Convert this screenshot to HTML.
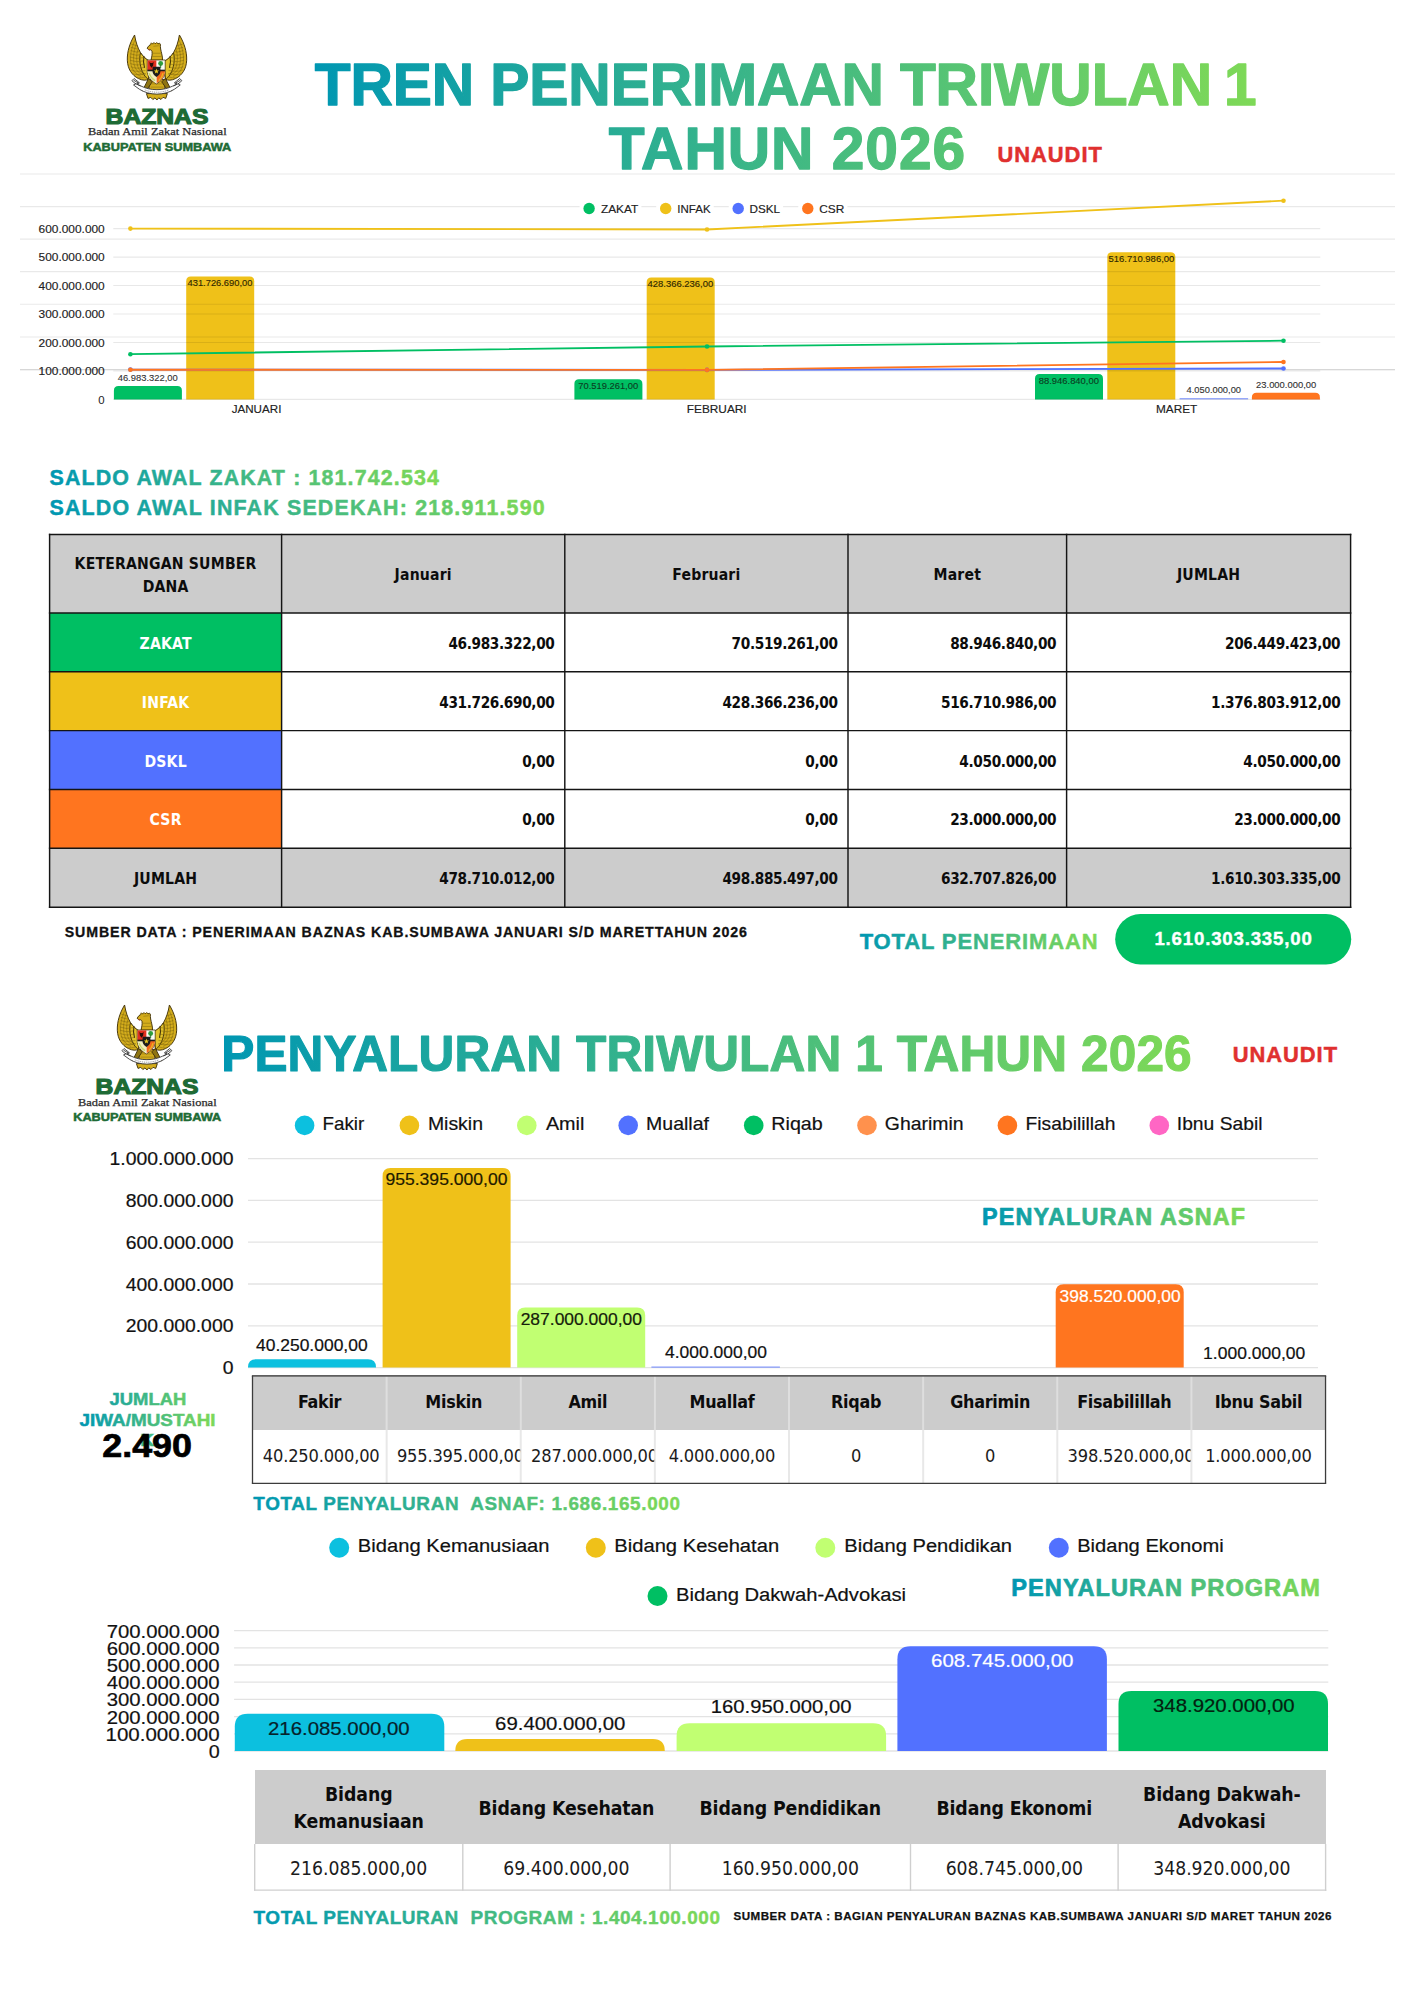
<!DOCTYPE html>
<html lang="id"><head><meta charset="utf-8"><title>Tren Penerimaan Triwulan 1 Tahun 2026</title>
<style>
html,body{margin:0;padding:0;background:#fff}
body{width:1414px;height:2000px;position:relative;overflow:hidden;font-family:"Liberation Sans",sans-serif;color:#111}
.t{position:absolute;white-space:nowrap;line-height:1}
svg{position:absolute;left:0;top:0;overflow:visible}
svg text{font-family:"Liberation Sans",sans-serif}
table{position:absolute;border-collapse:collapse;table-layout:fixed}
.os{font-family:"DejaVu Sans Condensed","DejaVu Sans","Liberation Sans",sans-serif}
</style></head><body>

<svg style="position:absolute;left:119.1px;top:28px" width="76" height="76" viewBox="0 0 141.4 141.4">
<g stroke="#43340a" stroke-width="1.8" stroke-linejoin="round">
<path d="M29 13 C20 28 15 44 15.500 60 C16 76 24 88 36 94 C44 98 51 98 55 95 L57 62 C50 59 44 53 40 46 C35 37 31 26 29 13Z" fill="#d4ad1c"/>
<path d="M112.400 13 C121.400 28 126.400 44 125.900 60 C125.400 76 117.400 88 105.400 94 C97.400 98 90.400 98 86.400 95 L84.400 62 C91.400 59 97.400 53 101.400 46 C106.400 37 110.400 26 112.400 13Z" fill="#d4ad1c"/>
<path d="M40 46 C37 58 39 74 46 86 C49 91 52 94 55 95 L58 62 C51 59 45 53 40 46Z" fill="#e2c22a"/>
<path d="M101.400 46 C104.400 58 102.400 74 95.400 86 C92.400 91 89.400 94 86.400 95 L83.400 62 C90.400 59 96.400 53 101.400 46Z" fill="#e2c22a"/>
<path d="M52.500 37.500 C55 32 60 29.500 66 29 C70 28.600 74 29 77 30.500 C76.500 36 78 42 79.500 48 C80.500 52 81 56 81 60 L59.500 60 C61 54 62 49 61.500 44 C61 42 60 40.500 58 40.500 C56 41 53.500 40 52.500 37.500Z" fill="#d4ad1c"/>
<path d="M57 96 L84.400 96 L86 122 L55 122Z" fill="#d4ad1c"/>
<path d="M51 122 L90 122 L87 131 L82 129 L78 133 L74 130 L70.500 134 L67 130 L63 133 L59 129 L54 131Z" fill="#d4ad1c"/>
<path d="M55 94 L46 112 L41 113 L44 117 L51 116 L62 100Z" fill="#8f7512"/>
<path d="M86.400 94 L95.400 112 L100.400 113 L97.400 117 L90.400 116 L79.400 100Z" fill="#8f7512"/>
</g>
<clipPath id="gc1"><path d="M29 13 C20 28 15 44 15.5 60 C16 76 24 88 36 94 C44 98 51 98 55 95 L57 62 C50 59 44 53 40 46 C35 37 31 26 29 13Z"/></clipPath>
<g fill="none" stroke="#8f7512" stroke-width="1.3" opacity=".85"><g clip-path="url(#gc1)"><path d="M23.0 30 Q32 35 42.0 31" /><path d="M22.3 36 Q32 41 42.9 37" /><path d="M21.6 42 Q32 47 43.8 43" /><path d="M20.8 48 Q32 53 44.7 49" /><path d="M20.1 54 Q32 59 45.6 55" /><path d="M20.6 60 Q32 65 46.5 61" /><path d="M21.3 66 Q32 71 47.4 67" /><path d="M22.0 72 Q32 77 48.3 73" /><path d="M22.8 78 Q32 83 49.2 79" /><path d="M23.5 84 Q32 89 50.1 85" /><path d="M24.2 90 Q32 95 51.0 91" /></g><g transform="translate(141.4 0) scale(-1 1)"><g clip-path="url(#gc1)"><path d="M23.0 30 Q32 35 42.0 31" /><path d="M22.3 36 Q32 41 42.9 37" /><path d="M21.6 42 Q32 47 43.8 43" /><path d="M20.8 48 Q32 53 44.7 49" /><path d="M20.1 54 Q32 59 45.6 55" /><path d="M20.6 60 Q32 65 46.5 61" /><path d="M21.3 66 Q32 71 47.4 67" /><path d="M22.0 72 Q32 77 48.3 73" /><path d="M22.8 78 Q32 83 49.2 79" /><path d="M23.5 84 Q32 89 50.1 85" /><path d="M24.2 90 Q32 95 51.0 91" /></g></g>
<path d="M60 104 H82 M59 110 H83 M58 116 H84 M64 34 L74 33 M63 47 H78 M62 53 H79"/></g>
<g fill="none" stroke="#43340a" stroke-width="1" opacity=".55"><path d="M30 22 C23 36 20 52 22 66 C24 78 31 86 41 90 M32 30 C27 42 26 56 28 68 C30 77 36 84 45 87 M35 40 C32 50 32 62 35 72 C37 78 42 83 49 86"/><g transform="translate(141.4 0) scale(-1 1)"><path d="M30 22 C23 36 20 52 22 66 C24 78 31 86 41 90 M32 30 C27 42 26 56 28 68 C30 77 36 84 45 87 M35 40 C32 50 32 62 35 72 C37 78 42 83 49 86"/></g></g>
<path d="M58 31 L60 27.5 L62.500 30 L65 26.800 L67.500 29.500 L70.500 26.800 L72.500 29.800 L75.500 28 L77 31" fill="#d4ad1c" stroke="#43340a" stroke-width="1.2" stroke-linejoin="round"/>
<path d="M46.500 52 C45 60 45.500 68 47.500 74" stroke="#43340a" stroke-width="2" fill="none"/>
<path d="M94.900 52 C96.400 60 95.900 68 93.900 74" stroke="#43340a" stroke-width="2" fill="none"/>
<path d="M54 38 L58 40.500 L57.500 43 Z" fill="#c0392b"/>
<g stroke="#333" stroke-width="1.6" fill="#fff" stroke-linejoin="round">
<path d="M24 98 L28 94 L38 102 L33 104 L41 108 C58 117 83 117 100 108 L108 104 L103 102 L113 94 L117 98 L110 104 L114 106 L103 114 C84 126 57 126 38 114 L27 106 L31 104Z"/>
</g>
<path d="M27 97 L37 103 M30 103 L40 108 M114.4 97 L104.4 103 M111.4 103 L101.4 108" stroke="#333" stroke-width="1.6"/>
<path d="M48 115 C62 121 79 121 93 115" stroke="#888" stroke-width="1.600" fill="none" stroke-dasharray="2 1.500"/>
<g>
<path d="M52.500 59.500 L86 59.500 L86 82 C85 92 78 99 69.500 104 C61 99 54 92 52.500 82Z" fill="#fbfbf4" stroke="#43340a" stroke-width="1.400"/>
<path d="M53.200 60.200 L69.500 60.200 L69.500 79 L53.200 79Z" fill="#e2301f"/>
<path d="M69.500 80 L85.300 80 L85.300 82 C84.300 91.500 78 98 69.800 103Z" fill="#f2691c"/>
<path d="M53.200 80 L69.500 80 L69.500 103 C61.500 98 54.700 91.500 53.200 82Z" fill="#f1eec0"/>
<path d="M56 84 C58 90 62 95 67 98" stroke="#c9d86a" stroke-width="2.400" fill="none"/>
<path d="M74 98 C78 94 81 89 82 84" stroke="#e8b820" stroke-width="2.400" fill="none"/>
<path d="M53 77.500 L85.500 77.500 L85.500 80.500 L53 80.500Z" fill="#1c1c1c"/>
<path d="M62.500 72 L77 72 L77 82 C76 86.500 73 89 69.700 91 C66.500 89 63.500 86.500 62.500 82Z" fill="#1c1c1c"/>
<path d="M69.700 75.500 L71 79 L74.600 79 L71.700 81.200 L72.800 84.800 L69.700 82.600 L66.600 84.800 L67.700 81.200 L64.800 79 L68.400 79Z" fill="#e9c81f"/>
<circle cx="77.500" cy="66" r="4.600" fill="#2f9e3c"/><rect x="76.600" y="68" width="1.800" height="6.500" fill="#2f7d32"/>
<path d="M56.500 63 C58 66 63 66 64.500 63 L63.500 70 L60.500 74 L57.500 70Z" fill="#2a0d0a"/>
</g>
</svg>
<svg width="1414" height="2000" viewBox="0 0 1414 2000">
<text x="105.6" y="123.7" font-size="22" font-weight="bold" textLength="102.8" lengthAdjust="spacingAndGlyphs" fill="#1e6b35" stroke="#1e6b35" stroke-width="1.2">BAZNAS</text>
<text x="88" y="135.2" font-size="10.800" font-family="'Liberation Serif',serif" style="font-family:'Liberation Serif',serif" textLength="138.600" lengthAdjust="spacingAndGlyphs" fill="#2b2b2b" stroke="#2b2b2b" stroke-width=".25">Badan Amil Zakat Nasional</text>
<text x="83.2" y="150.5" font-size="10.700" font-weight="bold" textLength="148" lengthAdjust="spacingAndGlyphs" fill="#1e6b35" stroke="#1e6b35" stroke-width=".5">KABUPATEN SUMBAWA</text>
</svg>
<svg width="1414" height="2000" viewBox="0 0 1414 2000">
<linearGradient id="gr1" gradientUnits="userSpaceOnUse" x1="315.4" x2="1208.5" y1="0" y2="0"><stop offset="0" stop-color="#0097b2"/><stop offset="1" stop-color="#79d65b"/></linearGradient><text x="314.81" y="105" font-size="58.7" font-weight="bold" textLength="897.21" lengthAdjust="spacing" fill="url(#gr1)" stroke="url(#gr1)" stroke-width="1.3" stroke-linejoin="round" xml:space="preserve">TREN PENERIMAAN TRIWULAN</text>
<linearGradient id="gr2" gradientUnits="userSpaceOnUse" x1="1228" x2="1257" y1="0" y2="0"><stop offset="0" stop-color="#7bd759"/><stop offset="1" stop-color="#7ed957"/></linearGradient><text x="1223.89" y="105" font-size="58.7" font-weight="bold" textLength="34.87" lengthAdjust="spacing" fill="url(#gr2)" stroke="url(#gr2)" stroke-width="1.3" stroke-linejoin="round" xml:space="preserve">1</text>
<linearGradient id="gr3" gradientUnits="userSpaceOnUse" x1="609.8" x2="962.8" y1="0" y2="0"><stop offset="0" stop-color="#28ac95"/><stop offset="1" stop-color="#57c573"/></linearGradient><text x="608.63" y="169" font-size="58.7" font-weight="bold" textLength="356.52" lengthAdjust="spacing" fill="url(#gr3)" stroke="url(#gr3)" stroke-width="1.3" stroke-linejoin="round" xml:space="preserve">TAHUN 2026</text>
<text x="997.47" y="161.6" font-size="21.9" font-weight="bold" textLength="104.37" lengthAdjust="spacing" fill="#e0302f" stroke="#e0302f" stroke-width="0.5" xml:space="preserve">UNAUDIT</text>
<text x="104.6" y="403.50" text-anchor="end" font-size="11.4" fill="#222">0</text>
<text x="38.64" y="375.04" font-size="11.4" font-weight="normal" textLength="66.11" lengthAdjust="spacingAndGlyphs" fill="#222" stroke="#222" stroke-width="0.15" xml:space="preserve">100.000.000</text>
<text x="38.64" y="346.58" font-size="11.4" font-weight="normal" textLength="66.11" lengthAdjust="spacingAndGlyphs" fill="#222" stroke="#222" stroke-width="0.15" xml:space="preserve">200.000.000</text>
<text x="38.64" y="318.12" font-size="11.4" font-weight="normal" textLength="66.11" lengthAdjust="spacingAndGlyphs" fill="#222" stroke="#222" stroke-width="0.15" xml:space="preserve">300.000.000</text>
<text x="38.64" y="289.66" font-size="11.4" font-weight="normal" textLength="66.11" lengthAdjust="spacingAndGlyphs" fill="#222" stroke="#222" stroke-width="0.15" xml:space="preserve">400.000.000</text>
<text x="38.64" y="261.2" font-size="11.4" font-weight="normal" textLength="66.11" lengthAdjust="spacingAndGlyphs" fill="#222" stroke="#222" stroke-width="0.15" xml:space="preserve">500.000.000</text>
<text x="38.64" y="232.74" font-size="11.4" font-weight="normal" textLength="66.11" lengthAdjust="spacingAndGlyphs" fill="#222" stroke="#222" stroke-width="0.15" xml:space="preserve">600.000.000</text>
<path d="M113.9 399.4V390.63Q113.9 386.03 118.5 386.03H177.3Q181.9 386.03 181.9 390.63V399.4Z" fill="#00bf63"/>
<path d="M186.2 399.4V281.13Q186.2 276.53 190.79999999999998 276.53H249.6Q254.2 276.53 254.2 281.13V399.4Z" fill="#efc119"/>
<path d="M574.4 399.4V383.93Q574.4 379.33 579.0 379.33H637.8Q642.4 379.33 642.4 383.93V399.4Z" fill="#00bf63"/>
<path d="M646.7 399.4V282.09Q646.7 277.49 651.3000000000001 277.49H710.1Q714.7 277.49 714.7 282.09V399.4Z" fill="#efc119"/>
<path d="M1035.0 399.4V378.69Q1035.0 374.09 1039.6 374.09H1098.4Q1103.0 374.09 1103.0 378.69V399.4Z" fill="#00bf63"/>
<path d="M1107.3 399.4V256.94Q1107.3 252.34 1111.8999999999999 252.34H1170.7Q1175.3 252.34 1175.3 256.94V399.4Z" fill="#efc119"/>
<rect x="1179.6" y="398.09999999999997" width="68.5" height="1.3" fill="#5271ff" opacity=".65"/>
<path d="M1251.9 399.4V397.45Q1251.9 392.85 1256.5 392.85H1315.3000000000002Q1319.9 392.85 1319.9 397.45V399.4Z" fill="#ff751f"/>
<line x1="20" x2="1395" y1="174.0" y2="174.0" stroke="#000" stroke-opacity=".085" stroke-width="1.1"/>
<line x1="20" x2="1395" y1="206.6" y2="206.6" stroke="#000" stroke-opacity=".085" stroke-width="1.1"/>
<line x1="20" x2="1395" y1="239.1" y2="239.1" stroke="#000" stroke-opacity=".085" stroke-width="1.1"/>
<line x1="20" x2="1395" y1="271.6" y2="271.6" stroke="#000" stroke-opacity=".085" stroke-width="1.1"/>
<line x1="20" x2="1395" y1="304.3" y2="304.3" stroke="#000" stroke-opacity=".085" stroke-width="1.1"/>
<line x1="20" x2="1395" y1="337.0" y2="337.0" stroke="#000" stroke-opacity=".085" stroke-width="1.1"/>
<line x1="20" x2="1395" y1="369.7" y2="369.7" stroke="#000" stroke-opacity=".21" stroke-width="1.1"/>
<line x1="113.3" x2="1320.3" y1="399.40" y2="399.40" stroke="#000" stroke-opacity=".09" stroke-width="1.1"/>
<line x1="113.3" x2="1320.3" y1="370.94" y2="370.94" stroke="#000" stroke-opacity=".09" stroke-width="1.1"/>
<line x1="113.3" x2="1320.3" y1="342.48" y2="342.48" stroke="#000" stroke-opacity=".09" stroke-width="1.1"/>
<line x1="113.3" x2="1320.3" y1="314.02" y2="314.02" stroke="#000" stroke-opacity=".09" stroke-width="1.1"/>
<line x1="113.3" x2="1320.3" y1="285.56" y2="285.56" stroke="#000" stroke-opacity=".09" stroke-width="1.1"/>
<line x1="113.3" x2="1320.3" y1="257.10" y2="257.10" stroke="#000" stroke-opacity=".09" stroke-width="1.1"/>
<line x1="113.3" x2="1320.3" y1="228.64" y2="228.64" stroke="#000" stroke-opacity=".09" stroke-width="1.1"/>
<polyline points="130.4,228.6 707,229.5 1283.5,200.7" fill="none" stroke="#efc119" stroke-width="1.85"/>
<circle cx="130.4" cy="228.6" r="2.3" fill="#efc119"/>
<circle cx="707" cy="229.5" r="2.3" fill="#efc119"/>
<circle cx="1283.5" cy="200.7" r="2.3" fill="#efc119"/>
<polyline points="130.4,354.2 707,346.5 1283.5,340.7" fill="none" stroke="#00bf63" stroke-width="1.85"/>
<circle cx="130.4" cy="354.2" r="2.3" fill="#00bf63"/>
<circle cx="707" cy="346.5" r="2.3" fill="#00bf63"/>
<circle cx="1283.5" cy="340.7" r="2.3" fill="#00bf63"/>
<polyline points="130.4,369.6 707,369.9 1283.5,368.5" fill="none" stroke="#5271ff" stroke-width="1.85"/>
<circle cx="130.4" cy="369.6" r="2.3" fill="#5271ff"/>
<circle cx="707" cy="369.9" r="2.3" fill="#5271ff"/>
<circle cx="1283.5" cy="368.5" r="2.3" fill="#5271ff"/>
<polyline points="130.4,369.7 707,369.9 1283.5,362" fill="none" stroke="#ff751f" stroke-width="1.85"/>
<circle cx="130.4" cy="369.7" r="2.3" fill="#ff751f"/>
<circle cx="707" cy="369.9" r="2.3" fill="#ff751f"/>
<circle cx="1283.5" cy="362" r="2.3" fill="#ff751f"/>
<text x="117.66" y="381.2" font-size="8.8" font-weight="normal" textLength="60.08" lengthAdjust="spacingAndGlyphs" fill="#333" stroke="#333" stroke-width="0.11" xml:space="preserve">46.983.322,00</text>
<text x="187.56" y="286" font-size="8.8" font-weight="normal" textLength="64.88" lengthAdjust="spacingAndGlyphs" fill="#2e2600" stroke="#2e2600" stroke-width="0.11" xml:space="preserve">431.726.690,00</text>
<text x="578.26" y="389" font-size="8.8" font-weight="normal" textLength="59.88" lengthAdjust="spacingAndGlyphs" fill="#0b3d22" stroke="#0b3d22" stroke-width="0.11" xml:space="preserve">70.519.261,00</text>
<text x="647.56" y="286.8" font-size="8.8" font-weight="normal" textLength="65.68" lengthAdjust="spacingAndGlyphs" fill="#2e2600" stroke="#2e2600" stroke-width="0.11" xml:space="preserve">428.366.236,00</text>
<text x="1038.76" y="383.5" font-size="8.8" font-weight="normal" textLength="60.18" lengthAdjust="spacingAndGlyphs" fill="#0b3d22" stroke="#0b3d22" stroke-width="0.11" xml:space="preserve">88.946.840,00</text>
<text x="1108.46" y="261.5" font-size="8.8" font-weight="normal" textLength="65.88" lengthAdjust="spacingAndGlyphs" fill="#2e2600" stroke="#2e2600" stroke-width="0.11" xml:space="preserve">516.710.986,00</text>
<text x="1186.56" y="393.2" font-size="8.8" font-weight="normal" textLength="54.48" lengthAdjust="spacingAndGlyphs" fill="#333" stroke="#333" stroke-width="0.11" xml:space="preserve">4.050.000,00</text>
<text x="1256.06" y="388" font-size="8.8" font-weight="normal" textLength="60.18" lengthAdjust="spacingAndGlyphs" fill="#333" stroke="#333" stroke-width="0.11" xml:space="preserve">23.000.000,00</text>
<text x="231.66" y="412.6" font-size="11.3" font-weight="normal" textLength="49.74" lengthAdjust="spacingAndGlyphs" fill="#222" stroke="#222" stroke-width="0.15" xml:space="preserve">JANUARI</text>
<text x="686.80" y="412.6" font-size="11.3" font-weight="normal" textLength="59.81" lengthAdjust="spacingAndGlyphs" fill="#222" stroke="#222" stroke-width="0.15" xml:space="preserve">FEBRUARI</text>
<text x="1156.00" y="412.6" font-size="11.3" font-weight="normal" textLength="41.23" lengthAdjust="spacingAndGlyphs" fill="#222" stroke="#222" stroke-width="0.15" xml:space="preserve">MARET</text>
<rect x="579.6" y="200" width="61.799999999999955" height="17" fill="#fff"/>
<circle cx="589.1" cy="208.5" r="5.7" fill="#00bf63"/>
<text x="600.95" y="212.5" font-size="11.3" font-weight="normal" textLength="37.40" lengthAdjust="spacingAndGlyphs" fill="#222" stroke="#222" stroke-width="0.15" xml:space="preserve">ZAKAT</text>
<rect x="656.2" y="200" width="57.5" height="17" fill="#fff"/>
<circle cx="665.7" cy="208.5" r="5.7" fill="#efc119"/>
<text x="677.35" y="212.5" font-size="11.3" font-weight="normal" textLength="33.30" lengthAdjust="spacingAndGlyphs" fill="#222" stroke="#222" stroke-width="0.15" xml:space="preserve">INFAK</text>
<rect x="728.7" y="200" width="54.39999999999998" height="17" fill="#fff"/>
<circle cx="738.2" cy="208.5" r="5.7" fill="#5271ff"/>
<text x="749.45" y="212.5" font-size="11.3" font-weight="normal" textLength="30.60" lengthAdjust="spacingAndGlyphs" fill="#222" stroke="#222" stroke-width="0.15" xml:space="preserve">DSKL</text>
<rect x="798.3" y="200" width="49.10000000000002" height="17" fill="#fff"/>
<circle cx="807.8" cy="208.5" r="5.7" fill="#ff751f"/>
<text x="819.25" y="212.5" font-size="11.3" font-weight="normal" textLength="25.10" lengthAdjust="spacingAndGlyphs" fill="#222" stroke="#222" stroke-width="0.15" xml:space="preserve">CSR</text>
</svg>
<svg width="1414" height="2000" viewBox="0 0 1414 2000">
<linearGradient id="gr4" gradientUnits="userSpaceOnUse" x1="50.5" x2="438" y1="0" y2="0"><stop offset="0" stop-color="#0097b2"/><stop offset="1" stop-color="#7ed957"/></linearGradient><text x="49.54" y="484.6" font-size="21.4" font-weight="bold" textLength="389.32" lengthAdjust="spacing" fill="url(#gr4)" stroke="url(#gr4)" stroke-width="0.45" stroke-linejoin="round" xml:space="preserve">SALDO AWAL ZAKAT : 181.742.534</text>
<linearGradient id="gr5" gradientUnits="userSpaceOnUse" x1="50.5" x2="543.8" y1="0" y2="0"><stop offset="0" stop-color="#0097b2"/><stop offset="1" stop-color="#7ed957"/></linearGradient><text x="49.54" y="515.1" font-size="21.4" font-weight="bold" textLength="495.12" lengthAdjust="spacing" fill="url(#gr5)" stroke="url(#gr5)" stroke-width="0.45" stroke-linejoin="round" xml:space="preserve">SALDO AWAL INFAK SEDEKAH: 218.911.590</text>
<text x="64.66" y="936.7" font-size="14.2" font-weight="bold" textLength="682.27" lengthAdjust="spacing" fill="#111" stroke="#111" stroke-width="0.3" xml:space="preserve">SUMBER DATA : PENERIMAAN BAZNAS KAB.SUMBAWA JANUARI S/D MARETTAHUN 2026</text>
<linearGradient id="gr6" gradientUnits="userSpaceOnUse" x1="860.1" x2="1096" y1="0" y2="0"><stop offset="0" stop-color="#0097b2"/><stop offset="1" stop-color="#7ed957"/></linearGradient><text x="859.66" y="949" font-size="22" font-weight="bold" textLength="237.88" lengthAdjust="spacing" fill="url(#gr6)" stroke="url(#gr6)" stroke-width="0.45" stroke-linejoin="round" xml:space="preserve">TOTAL PENERIMAAN</text>
<rect x="1115.2" y="914" width="236" height="50.4" rx="25.2" fill="#00bf63"/>
<text x="1154.41" y="945.4" font-size="18.6" font-weight="bold" textLength="157.33" lengthAdjust="spacing" fill="#fff" stroke="#fff" stroke-width="0.4" xml:space="preserve">1.610.303.335,00</text>
</svg>
<table class="os" id="t1" style="left:49.6px;top:534.4px;width:1301.0px;font-weight:bold;font-size:15.2px"><colgroup><col style="width:232.0px"><col style="width:283.2px"><col style="width:283.2px"><col style="width:218.6px"><col style="width:284.0px"></colgroup>
<tr style="height:78.5px;background:#cccccc"><th>KETERANGAN SUMBER<br>DANA</th><th>Januari</th><th>Februari</th><th>Maret</th><th>JUMLAH</th></tr>
<tr style="height:58.9px"><th style="background:#00bf63;color:#fff">ZAKAT</th><td>46.983.322,00</td><td>70.519.261,00</td><td>88.946.840,00</td><td>206.449.423,00</td></tr>
<tr style="height:58.8px"><th style="background:#efc119;color:#fff">INFAK</th><td>431.726.690,00</td><td>428.366.236,00</td><td>516.710.986,00</td><td>1.376.803.912,00</td></tr>
<tr style="height:58.9px"><th style="background:#5271ff;color:#fff">DSKL</th><td>0,00</td><td>0,00</td><td>4.050.000,00</td><td>4.050.000,00</td></tr>
<tr style="height:58.8px"><th style="background:#ff751f;color:#fff">CSR</th><td>0,00</td><td>0,00</td><td>23.000.000,00</td><td>23.000.000,00</td></tr>
<tr style="height:58.9px;background:#cccccc"><th>JUMLAH</th><td>478.710.012,00</td><td>498.885.497,00</td><td>632.707.826,00</td><td>1.610.303.335,00</td></tr>
</table>
<svg width="1414" height="2000" viewBox="0 0 1414 2000"><g stroke="#141414" stroke-width="1.45" stroke-linecap="square"><line x1="49.6" x2="49.6" y1="534.4" y2="907.2"/><line x1="281.6" x2="281.6" y1="534.4" y2="907.2"/><line x1="564.8" x2="564.8" y1="534.4" y2="907.2"/><line x1="848" x2="848" y1="534.4" y2="907.2"/><line x1="1066.6" x2="1066.6" y1="534.4" y2="907.2"/><line x1="1350.6" x2="1350.6" y1="534.4" y2="907.2"/><line x1="49.6" x2="1350.6" y1="534.4" y2="534.4"/><line x1="49.6" x2="1350.6" y1="612.9" y2="612.9"/><line x1="49.6" x2="1350.6" y1="671.8" y2="671.8"/><line x1="49.6" x2="1350.6" y1="730.6" y2="730.6"/><line x1="49.6" x2="1350.6" y1="789.5" y2="789.5"/><line x1="49.6" x2="1350.6" y1="848.3" y2="848.3"/><line x1="49.6" x2="1350.6" y1="907.2" y2="907.2"/></g></svg>
<style>
#t1 th,#t1 td{border:0;padding:4px 10.3px 0 10.3px;line-height:23px;vertical-align:middle;letter-spacing:-.35px;color:#0c0c0c}
#t1 td{text-align:right}
#t1 th{text-align:center;font-size:15.6px;letter-spacing:.2px}
</style>
<svg style="position:absolute;left:109.1px;top:998.3px" width="76" height="76" viewBox="0 0 141.4 141.4">
<g stroke="#43340a" stroke-width="1.8" stroke-linejoin="round">
<path d="M29 13 C20 28 15 44 15.500 60 C16 76 24 88 36 94 C44 98 51 98 55 95 L57 62 C50 59 44 53 40 46 C35 37 31 26 29 13Z" fill="#d4ad1c"/>
<path d="M112.400 13 C121.400 28 126.400 44 125.900 60 C125.400 76 117.400 88 105.400 94 C97.400 98 90.400 98 86.400 95 L84.400 62 C91.400 59 97.400 53 101.400 46 C106.400 37 110.400 26 112.400 13Z" fill="#d4ad1c"/>
<path d="M40 46 C37 58 39 74 46 86 C49 91 52 94 55 95 L58 62 C51 59 45 53 40 46Z" fill="#e2c22a"/>
<path d="M101.400 46 C104.400 58 102.400 74 95.400 86 C92.400 91 89.400 94 86.400 95 L83.400 62 C90.400 59 96.400 53 101.400 46Z" fill="#e2c22a"/>
<path d="M52.500 37.500 C55 32 60 29.500 66 29 C70 28.600 74 29 77 30.500 C76.500 36 78 42 79.500 48 C80.500 52 81 56 81 60 L59.500 60 C61 54 62 49 61.500 44 C61 42 60 40.500 58 40.500 C56 41 53.500 40 52.500 37.500Z" fill="#d4ad1c"/>
<path d="M57 96 L84.400 96 L86 122 L55 122Z" fill="#d4ad1c"/>
<path d="M51 122 L90 122 L87 131 L82 129 L78 133 L74 130 L70.500 134 L67 130 L63 133 L59 129 L54 131Z" fill="#d4ad1c"/>
<path d="M55 94 L46 112 L41 113 L44 117 L51 116 L62 100Z" fill="#8f7512"/>
<path d="M86.400 94 L95.400 112 L100.400 113 L97.400 117 L90.400 116 L79.400 100Z" fill="#8f7512"/>
</g>
<clipPath id="gc2"><path d="M29 13 C20 28 15 44 15.5 60 C16 76 24 88 36 94 C44 98 51 98 55 95 L57 62 C50 59 44 53 40 46 C35 37 31 26 29 13Z"/></clipPath>
<g fill="none" stroke="#8f7512" stroke-width="1.3" opacity=".85"><g clip-path="url(#gc2)"><path d="M23.0 30 Q32 35 42.0 31" /><path d="M22.3 36 Q32 41 42.9 37" /><path d="M21.6 42 Q32 47 43.8 43" /><path d="M20.8 48 Q32 53 44.7 49" /><path d="M20.1 54 Q32 59 45.6 55" /><path d="M20.6 60 Q32 65 46.5 61" /><path d="M21.3 66 Q32 71 47.4 67" /><path d="M22.0 72 Q32 77 48.3 73" /><path d="M22.8 78 Q32 83 49.2 79" /><path d="M23.5 84 Q32 89 50.1 85" /><path d="M24.2 90 Q32 95 51.0 91" /></g><g transform="translate(141.4 0) scale(-1 1)"><g clip-path="url(#gc2)"><path d="M23.0 30 Q32 35 42.0 31" /><path d="M22.3 36 Q32 41 42.9 37" /><path d="M21.6 42 Q32 47 43.8 43" /><path d="M20.8 48 Q32 53 44.7 49" /><path d="M20.1 54 Q32 59 45.6 55" /><path d="M20.6 60 Q32 65 46.5 61" /><path d="M21.3 66 Q32 71 47.4 67" /><path d="M22.0 72 Q32 77 48.3 73" /><path d="M22.8 78 Q32 83 49.2 79" /><path d="M23.5 84 Q32 89 50.1 85" /><path d="M24.2 90 Q32 95 51.0 91" /></g></g>
<path d="M60 104 H82 M59 110 H83 M58 116 H84 M64 34 L74 33 M63 47 H78 M62 53 H79"/></g>
<g fill="none" stroke="#43340a" stroke-width="1" opacity=".55"><path d="M30 22 C23 36 20 52 22 66 C24 78 31 86 41 90 M32 30 C27 42 26 56 28 68 C30 77 36 84 45 87 M35 40 C32 50 32 62 35 72 C37 78 42 83 49 86"/><g transform="translate(141.4 0) scale(-1 1)"><path d="M30 22 C23 36 20 52 22 66 C24 78 31 86 41 90 M32 30 C27 42 26 56 28 68 C30 77 36 84 45 87 M35 40 C32 50 32 62 35 72 C37 78 42 83 49 86"/></g></g>
<path d="M58 31 L60 27.5 L62.500 30 L65 26.800 L67.500 29.500 L70.500 26.800 L72.500 29.800 L75.500 28 L77 31" fill="#d4ad1c" stroke="#43340a" stroke-width="1.2" stroke-linejoin="round"/>
<path d="M46.500 52 C45 60 45.500 68 47.500 74" stroke="#43340a" stroke-width="2" fill="none"/>
<path d="M94.900 52 C96.400 60 95.900 68 93.900 74" stroke="#43340a" stroke-width="2" fill="none"/>
<path d="M54 38 L58 40.500 L57.500 43 Z" fill="#c0392b"/>
<g stroke="#333" stroke-width="1.6" fill="#fff" stroke-linejoin="round">
<path d="M24 98 L28 94 L38 102 L33 104 L41 108 C58 117 83 117 100 108 L108 104 L103 102 L113 94 L117 98 L110 104 L114 106 L103 114 C84 126 57 126 38 114 L27 106 L31 104Z"/>
</g>
<path d="M27 97 L37 103 M30 103 L40 108 M114.4 97 L104.4 103 M111.4 103 L101.4 108" stroke="#333" stroke-width="1.6"/>
<path d="M48 115 C62 121 79 121 93 115" stroke="#888" stroke-width="1.600" fill="none" stroke-dasharray="2 1.500"/>
<g>
<path d="M52.500 59.500 L86 59.500 L86 82 C85 92 78 99 69.500 104 C61 99 54 92 52.500 82Z" fill="#fbfbf4" stroke="#43340a" stroke-width="1.400"/>
<path d="M53.200 60.200 L69.500 60.200 L69.500 79 L53.200 79Z" fill="#e2301f"/>
<path d="M69.500 80 L85.300 80 L85.300 82 C84.300 91.500 78 98 69.800 103Z" fill="#f2691c"/>
<path d="M53.200 80 L69.500 80 L69.500 103 C61.500 98 54.700 91.500 53.200 82Z" fill="#f1eec0"/>
<path d="M56 84 C58 90 62 95 67 98" stroke="#c9d86a" stroke-width="2.400" fill="none"/>
<path d="M74 98 C78 94 81 89 82 84" stroke="#e8b820" stroke-width="2.400" fill="none"/>
<path d="M53 77.500 L85.500 77.500 L85.500 80.500 L53 80.500Z" fill="#1c1c1c"/>
<path d="M62.500 72 L77 72 L77 82 C76 86.500 73 89 69.700 91 C66.500 89 63.500 86.500 62.500 82Z" fill="#1c1c1c"/>
<path d="M69.700 75.500 L71 79 L74.600 79 L71.700 81.200 L72.800 84.800 L69.700 82.600 L66.600 84.800 L67.700 81.200 L64.800 79 L68.400 79Z" fill="#e9c81f"/>
<circle cx="77.500" cy="66" r="4.600" fill="#2f9e3c"/><rect x="76.600" y="68" width="1.800" height="6.500" fill="#2f7d32"/>
<path d="M56.500 63 C58 66 63 66 64.500 63 L63.500 70 L60.500 74 L57.500 70Z" fill="#2a0d0a"/>
</g>
</svg>
<svg width="1414" height="2000" viewBox="0 0 1414 2000">
<text x="95.6" y="1094.0" font-size="22" font-weight="bold" textLength="102.8" lengthAdjust="spacingAndGlyphs" fill="#1e6b35" stroke="#1e6b35" stroke-width="1.2">BAZNAS</text>
<text x="78" y="1105.5" font-size="10.800" font-family="'Liberation Serif',serif" style="font-family:'Liberation Serif',serif" textLength="138.600" lengthAdjust="spacingAndGlyphs" fill="#2b2b2b" stroke="#2b2b2b" stroke-width=".25">Badan Amil Zakat Nasional</text>
<text x="73.2" y="1120.8" font-size="10.700" font-weight="bold" textLength="148" lengthAdjust="spacingAndGlyphs" fill="#1e6b35" stroke="#1e6b35" stroke-width=".5">KABUPATEN SUMBAWA</text>
</svg>
<svg width="1414" height="2000" viewBox="0 0 1414 2000">
<linearGradient id="gr7" gradientUnits="userSpaceOnUse" x1="224.7" x2="1189.7" y1="0" y2="0"><stop offset="0" stop-color="#0097b2"/><stop offset="1" stop-color="#7ed957"/></linearGradient><text x="221.23" y="1071.3" font-size="49.6" font-weight="bold" textLength="970.46" lengthAdjust="spacing" fill="url(#gr7)" stroke="url(#gr7)" stroke-width="1.1" stroke-linejoin="round" xml:space="preserve">PENYALURAN TRIWULAN 1 TAHUN 2026</text>
<text x="1232.67" y="1062.2" font-size="21.9" font-weight="bold" textLength="104.37" lengthAdjust="spacing" fill="#e0302f" stroke="#e0302f" stroke-width="0.5" xml:space="preserve">UNAUDIT</text>
<circle cx="304.6" cy="1125.4" r="9.8" fill="#0cc0df"/>
<text x="322.50" y="1130.3" font-size="18.6" font-weight="normal" textLength="41.75" lengthAdjust="spacingAndGlyphs" fill="#111" stroke="#111" stroke-width="0.2" xml:space="preserve">Fakir</text>
<circle cx="409.4" cy="1125.4" r="9.8" fill="#efc119"/>
<text x="427.90" y="1130.3" font-size="18.6" font-weight="normal" textLength="55.05" lengthAdjust="spacingAndGlyphs" fill="#111" stroke="#111" stroke-width="0.2" xml:space="preserve">Miskin</text>
<circle cx="526.8" cy="1125.4" r="9.8" fill="#c1ff72"/>
<text x="545.90" y="1130.3" font-size="18.6" font-weight="normal" textLength="38.45" lengthAdjust="spacingAndGlyphs" fill="#111" stroke="#111" stroke-width="0.2" xml:space="preserve">Amil</text>
<circle cx="628.2" cy="1125.4" r="9.8" fill="#5271ff"/>
<text x="646.10" y="1130.3" font-size="18.6" font-weight="normal" textLength="62.85" lengthAdjust="spacingAndGlyphs" fill="#111" stroke="#111" stroke-width="0.2" xml:space="preserve">Muallaf</text>
<circle cx="753.7" cy="1125.4" r="9.8" fill="#00bf63"/>
<text x="771.30" y="1130.3" font-size="18.6" font-weight="normal" textLength="51.45" lengthAdjust="spacingAndGlyphs" fill="#111" stroke="#111" stroke-width="0.2" xml:space="preserve">Riqab</text>
<circle cx="867" cy="1125.4" r="9.8" fill="#ff914d"/>
<text x="884.80" y="1130.3" font-size="18.6" font-weight="normal" textLength="78.75" lengthAdjust="spacingAndGlyphs" fill="#111" stroke="#111" stroke-width="0.2" xml:space="preserve">Gharimin</text>
<circle cx="1007.4" cy="1125.4" r="9.8" fill="#ff751f"/>
<text x="1025.60" y="1130.3" font-size="18.6" font-weight="normal" textLength="89.85" lengthAdjust="spacingAndGlyphs" fill="#111" stroke="#111" stroke-width="0.2" xml:space="preserve">Fisabilillah</text>
<circle cx="1159.3" cy="1125.4" r="9.8" fill="#ff66c4"/>
<text x="1176.80" y="1130.3" font-size="18.6" font-weight="normal" textLength="85.65" lengthAdjust="spacingAndGlyphs" fill="#111" stroke="#111" stroke-width="0.2" xml:space="preserve">Ibnu Sabil</text>
<line x1="248" x2="1318" y1="1367.6" y2="1367.6" stroke="#e3e3e3" stroke-width="1.3"/>
<text x="222.68" y="1374.2" font-size="18.4" font-weight="normal" textLength="10.76" lengthAdjust="spacingAndGlyphs" fill="#111" stroke="#111" stroke-width="0.2" xml:space="preserve">0</text>
<line x1="248" x2="1318" y1="1325.8" y2="1325.8" stroke="#e3e3e3" stroke-width="1.3"/>
<text x="125.78" y="1332.4" font-size="18.4" font-weight="normal" textLength="107.66" lengthAdjust="spacingAndGlyphs" fill="#111" stroke="#111" stroke-width="0.2" xml:space="preserve">200.000.000</text>
<line x1="248" x2="1318" y1="1284.0" y2="1284.0" stroke="#e3e3e3" stroke-width="1.3"/>
<text x="125.78" y="1290.6" font-size="18.4" font-weight="normal" textLength="107.66" lengthAdjust="spacingAndGlyphs" fill="#111" stroke="#111" stroke-width="0.2" xml:space="preserve">400.000.000</text>
<line x1="248" x2="1318" y1="1242.2" y2="1242.2" stroke="#e3e3e3" stroke-width="1.3"/>
<text x="125.78" y="1248.8" font-size="18.4" font-weight="normal" textLength="107.66" lengthAdjust="spacingAndGlyphs" fill="#111" stroke="#111" stroke-width="0.2" xml:space="preserve">600.000.000</text>
<line x1="248" x2="1318" y1="1200.4" y2="1200.4" stroke="#e3e3e3" stroke-width="1.3"/>
<text x="125.78" y="1207.0" font-size="18.4" font-weight="normal" textLength="107.66" lengthAdjust="spacingAndGlyphs" fill="#111" stroke="#111" stroke-width="0.2" xml:space="preserve">800.000.000</text>
<line x1="248" x2="1318" y1="1158.6" y2="1158.6" stroke="#e3e3e3" stroke-width="1.3"/>
<text x="109.56" y="1165.2" font-size="18.4" font-weight="normal" textLength="123.88" lengthAdjust="spacingAndGlyphs" fill="#111" stroke="#111" stroke-width="0.2" xml:space="preserve">1.000.000.000</text>
<path d="M248.0 1367.6V1367.19Q248.0 1359.19 256.0 1359.19H368.0Q376.0 1359.19 376.0 1367.19V1367.6Z" fill="#0cc0df"/>
<path d="M382.6 1367.6V1175.92Q382.6 1167.92 390.6 1167.92H502.6Q510.6 1167.92 510.6 1175.92V1367.6Z" fill="#efc119"/>
<path d="M517.2 1367.6V1315.62Q517.2 1307.62 525.2 1307.62H637.2Q645.2 1307.62 645.2 1315.62V1367.6Z" fill="#c1ff72"/>
<rect x="651.4" y="1366.5" width="128.5" height="1.2" fill="#5271ff" opacity=".7"/>
<path d="M1055.7 1367.6V1292.31Q1055.7 1284.31 1063.7 1284.31H1175.7Q1183.7 1284.31 1183.7 1292.31V1367.6Z" fill="#ff751f"/>
<text x="255.97" y="1350.5" font-size="16.6" font-weight="normal" textLength="111.66" lengthAdjust="spacingAndGlyphs" fill="#111" stroke="#111" stroke-width="0.2" xml:space="preserve">40.250.000,00</text>
<text x="385.47" y="1185.2" font-size="16.6" font-weight="normal" textLength="121.96" lengthAdjust="spacingAndGlyphs" fill="#1f1a00" stroke="#1f1a00" stroke-width="0.2" xml:space="preserve">955.395.000,00</text>
<text x="520.67" y="1325.1" font-size="16.6" font-weight="normal" textLength="121.36" lengthAdjust="spacingAndGlyphs" fill="#15200a" stroke="#15200a" stroke-width="0.2" xml:space="preserve">287.000.000,00</text>
<text x="665.07" y="1358" font-size="16.6" font-weight="normal" textLength="101.86" lengthAdjust="spacingAndGlyphs" fill="#111" stroke="#111" stroke-width="0.2" xml:space="preserve">4.000.000,00</text>
<text x="1059.57" y="1301.7" font-size="16.6" font-weight="normal" textLength="121.06" lengthAdjust="spacingAndGlyphs" fill="#fff" stroke="#fff" stroke-width="0.2" xml:space="preserve">398.520.000,00</text>
<text x="1203.14" y="1358.6" font-size="16.6" font-weight="normal" textLength="102.09" lengthAdjust="spacingAndGlyphs" fill="#111" stroke="#111" stroke-width="0.2" xml:space="preserve">1.000.000,00</text>
<linearGradient id="gr8" gradientUnits="userSpaceOnUse" x1="983.7" x2="1244.6" y1="0" y2="0"><stop offset="0" stop-color="#0097b2"/><stop offset="1" stop-color="#7ed957"/></linearGradient><text x="982.06" y="1225.2" font-size="23.4" font-weight="bold" textLength="263.01" lengthAdjust="spacing" fill="url(#gr8)" stroke="url(#gr8)" stroke-width="0.7" stroke-linejoin="round" xml:space="preserve">PENYALURAN ASNAF</text>
<linearGradient id="grJ" gradientUnits="userSpaceOnUse" x1="80" x2="214.4" y1="0" y2="0"><stop offset="0" stop-color="#0097b2"/><stop offset="1" stop-color="#7ed957"/></linearGradient>
<text x="109.48" y="1405.2" font-size="17.4" font-weight="bold" textLength="76.84" fill="url(#grJ)" stroke="url(#grJ)" stroke-width=".5" lengthAdjust="spacingAndGlyphs">JUMLAH</text>
<text x="79.48" y="1425.6" font-size="17.4" font-weight="bold" textLength="136.14" fill="url(#grJ)" stroke="url(#grJ)" stroke-width=".5" lengthAdjust="spacingAndGlyphs">JIWA/MUSTAHI</text>
<text x="140.28" y="1446" font-size="17.4" font-weight="bold" textLength="13.94" fill="url(#grJ)" stroke="url(#grJ)" stroke-width=".5" lengthAdjust="spacingAndGlyphs">K</text>
<text x="102.30" y="1456.6" font-size="32.4" font-weight="bold" textLength="89.69" lengthAdjust="spacingAndGlyphs" fill="#000" stroke="#000" stroke-width="0.7" xml:space="preserve">2.490</text>
<linearGradient id="gr9" gradientUnits="userSpaceOnUse" x1="253.7" x2="679.2" y1="0" y2="0"><stop offset="0" stop-color="#0097b2"/><stop offset="1" stop-color="#7ed957"/></linearGradient><text x="253.32" y="1510" font-size="18.9" font-weight="bold" textLength="426.63" lengthAdjust="spacing" fill="url(#gr9)" stroke="url(#gr9)" stroke-width="0.4" stroke-linejoin="round" xml:space="preserve">TOTAL PENYALURAN  ASNAF: 1.686.165.000</text>
</svg>
<table class="os" id="t2" style="left:252.5px;top:1375.9px;width:1073.0px">
<tr style="height:53.8px;background:#cccccc"><th>Fakir</th><th>Miskin</th><th>Amil</th><th>Muallaf</th><th>Riqab</th><th>Gharimin</th><th>Fisabilillah</th><th>Ibnu Sabil</th></tr>
<tr style="height:53.7px"><td><div>40.250.000,00</div></td><td><div>955.395.000,00</div></td><td><div>287.000.000,00</div></td><td><div>4.000.000,00</div></td><td><div>0</div></td><td><div>0</div></td><td><div>398.520.000,00</div></td><td><div>1.000.000,00</div></td></tr>
</table>
<svg width="1414" height="2000" viewBox="0 0 1414 2000"><line x1="386.63" x2="386.63" y1="1375.9" y2="1483.4" stroke="#e2e2e2" stroke-opacity=".8" stroke-width="2"/><line x1="520.76" x2="520.76" y1="1375.9" y2="1483.4" stroke="#e2e2e2" stroke-opacity=".8" stroke-width="2"/><line x1="654.89" x2="654.89" y1="1375.9" y2="1483.4" stroke="#e2e2e2" stroke-opacity=".8" stroke-width="2"/><line x1="789.02" x2="789.02" y1="1375.9" y2="1483.4" stroke="#e2e2e2" stroke-opacity=".8" stroke-width="2"/><line x1="923.15" x2="923.15" y1="1375.9" y2="1483.4" stroke="#e2e2e2" stroke-opacity=".8" stroke-width="2"/><line x1="1057.28" x2="1057.28" y1="1375.9" y2="1483.4" stroke="#e2e2e2" stroke-opacity=".8" stroke-width="2"/><line x1="1191.41" x2="1191.41" y1="1375.9" y2="1483.4" stroke="#e2e2e2" stroke-opacity=".8" stroke-width="2"/><line x1="251.85" x2="1326.19" y1="1375.9" y2="1375.9" stroke="#5e5e5e" stroke-width="1.9"/><line x1="251.85" x2="1326.19" y1="1483.4" y2="1483.4" stroke="#3c3c3c" stroke-width="1.4"/><line x1="252.5" x2="252.5" y1="1375.9" y2="1483.4" stroke="#3c3c3c" stroke-width="1.3"/><line x1="1325.54" x2="1325.54" y1="1375.9" y2="1483.4" stroke="#3c3c3c" stroke-width="1.3"/></svg>
<style>
#t2 th,#t2 td{border:0;padding:0 0 2.2px 0;text-align:center;vertical-align:middle;white-space:nowrap;overflow:hidden}
#t2 th{font-weight:bold;font-size:17.8px;letter-spacing:-.3px;color:#0c0c0c}
#t2 td{font-weight:normal;color:#1c1c1c;font-size:18.1px;letter-spacing:-.18px}
#t2 td div{margin:0 10.3px;text-align:center}
</style>
<svg width="1414" height="2000" viewBox="0 0 1414 2000">
<circle cx="339.2" cy="1547.7" r="10" fill="#0cc0df"/>
<text x="357.89" y="1552.4" font-size="18.8" font-weight="normal" textLength="191.66" lengthAdjust="spacingAndGlyphs" fill="#111" stroke="#111" stroke-width="0.2" xml:space="preserve">Bidang Kemanusiaan</text>
<circle cx="595.8" cy="1547.7" r="10" fill="#efc119"/>
<text x="614.29" y="1552.4" font-size="18.8" font-weight="normal" textLength="164.86" lengthAdjust="spacingAndGlyphs" fill="#111" stroke="#111" stroke-width="0.2" xml:space="preserve">Bidang Kesehatan</text>
<circle cx="825.3" cy="1547.7" r="10" fill="#c1ff72"/>
<text x="844.29" y="1552.4" font-size="18.8" font-weight="normal" textLength="167.76" lengthAdjust="spacingAndGlyphs" fill="#111" stroke="#111" stroke-width="0.2" xml:space="preserve">Bidang Pendidikan</text>
<circle cx="1058.8" cy="1547.7" r="10" fill="#5271ff"/>
<text x="1077.19" y="1552.4" font-size="18.8" font-weight="normal" textLength="146.46" lengthAdjust="spacingAndGlyphs" fill="#111" stroke="#111" stroke-width="0.2" xml:space="preserve">Bidang Ekonomi</text>
<circle cx="657.5" cy="1596" r="10" fill="#00bf63"/>
<text x="675.99" y="1600.9" font-size="18.8" font-weight="normal" textLength="230.09" lengthAdjust="spacingAndGlyphs" fill="#111" stroke="#111" stroke-width="0.2" xml:space="preserve">Bidang Dakwah-Advokasi</text>
<line x1="234.1" x2="1328.3" y1="1751.0" y2="1751.0" stroke="#e3e3e3" stroke-width="1.3"/>
<text x="208.65" y="1757.9" font-size="18.7" font-weight="normal" textLength="11.00" lengthAdjust="spacingAndGlyphs" fill="#111" stroke="#111" stroke-width="0.2" xml:space="preserve">0</text>
<line x1="234.1" x2="1328.3" y1="1733.8" y2="1733.8" stroke="#e3e3e3" stroke-width="1.3"/>
<text x="105.53" y="1740.7" font-size="18.7" font-weight="normal" textLength="114.12" lengthAdjust="spacingAndGlyphs" fill="#111" stroke="#111" stroke-width="0.2" xml:space="preserve">100.000.000</text>
<line x1="234.1" x2="1328.3" y1="1716.6" y2="1716.6" stroke="#e3e3e3" stroke-width="1.3"/>
<text x="106.65" y="1723.5" font-size="18.7" font-weight="normal" textLength="113.00" lengthAdjust="spacingAndGlyphs" fill="#111" stroke="#111" stroke-width="0.2" xml:space="preserve">200.000.000</text>
<line x1="234.1" x2="1328.3" y1="1699.4" y2="1699.4" stroke="#e3e3e3" stroke-width="1.3"/>
<text x="106.65" y="1706.3" font-size="18.7" font-weight="normal" textLength="113.00" lengthAdjust="spacingAndGlyphs" fill="#111" stroke="#111" stroke-width="0.2" xml:space="preserve">300.000.000</text>
<line x1="234.1" x2="1328.3" y1="1682.2" y2="1682.2" stroke="#e3e3e3" stroke-width="1.3"/>
<text x="106.65" y="1689.1" font-size="18.7" font-weight="normal" textLength="113.00" lengthAdjust="spacingAndGlyphs" fill="#111" stroke="#111" stroke-width="0.2" xml:space="preserve">400.000.000</text>
<line x1="234.1" x2="1328.3" y1="1665.0" y2="1665.0" stroke="#e3e3e3" stroke-width="1.3"/>
<text x="106.65" y="1671.9" font-size="18.7" font-weight="normal" textLength="113.00" lengthAdjust="spacingAndGlyphs" fill="#111" stroke="#111" stroke-width="0.2" xml:space="preserve">500.000.000</text>
<line x1="234.1" x2="1328.3" y1="1647.8" y2="1647.8" stroke="#e3e3e3" stroke-width="1.3"/>
<text x="106.65" y="1654.7" font-size="18.7" font-weight="normal" textLength="113.00" lengthAdjust="spacingAndGlyphs" fill="#111" stroke="#111" stroke-width="0.2" xml:space="preserve">600.000.000</text>
<line x1="234.1" x2="1328.3" y1="1630.6" y2="1630.6" stroke="#e3e3e3" stroke-width="1.3"/>
<text x="106.65" y="1637.5" font-size="18.7" font-weight="normal" textLength="113.00" lengthAdjust="spacingAndGlyphs" fill="#111" stroke="#111" stroke-width="0.2" xml:space="preserve">700.000.000</text>
<path d="M234.8 1751V1726.83Q234.8 1713.83 247.8 1713.83H431.3Q444.3 1713.83 444.3 1726.83V1751Z" fill="#0cc0df"/>
<path d="M455.3 1751V1751.00Q455.3 1739.06 467.23679999999996 1739.06H652.8632Q664.8 1739.06 664.8 1751.00V1751Z" fill="#efc119"/>
<path d="M676.6 1751V1736.32Q676.6 1723.32 689.6 1723.32H873.1Q886.1 1723.32 886.1 1736.32V1751Z" fill="#c1ff72"/>
<path d="M897.4 1751V1659.30Q897.4 1646.30 910.4 1646.30H1093.9Q1106.9 1646.30 1106.9 1659.30V1751Z" fill="#5271ff"/>
<path d="M1118.5 1751V1703.99Q1118.5 1690.99 1131.5 1690.99H1315.0Q1328.0 1690.99 1328.0 1703.99V1751Z" fill="#00bf63"/>
<text x="267.98" y="1734.7" font-size="18.4" font-weight="normal" textLength="141.74" lengthAdjust="spacingAndGlyphs" fill="#06222a" stroke="#06222a" stroke-width="0.2" xml:space="preserve">216.085.000,00</text>
<text x="495.08" y="1729.5" font-size="18.4" font-weight="normal" textLength="130.24" lengthAdjust="spacingAndGlyphs" fill="#111" stroke="#111" stroke-width="0.2" xml:space="preserve">69.400.000,00</text>
<text x="710.76" y="1713.2" font-size="18.4" font-weight="normal" textLength="140.66" lengthAdjust="spacingAndGlyphs" fill="#111" stroke="#111" stroke-width="0.2" xml:space="preserve">160.950.000,00</text>
<text x="931.08" y="1667" font-size="18.4" font-weight="normal" textLength="142.44" lengthAdjust="spacingAndGlyphs" fill="#fff" stroke="#fff" stroke-width="0.2" xml:space="preserve">608.745.000,00</text>
<text x="1152.98" y="1711.6" font-size="18.4" font-weight="normal" textLength="141.74" lengthAdjust="spacingAndGlyphs" fill="#04210f" stroke="#04210f" stroke-width="0.2" xml:space="preserve">348.920.000,00</text>
<linearGradient id="gr10" gradientUnits="userSpaceOnUse" x1="1013" x2="1318.2" y1="0" y2="0"><stop offset="0" stop-color="#0097b2"/><stop offset="1" stop-color="#7ed957"/></linearGradient><text x="1011.35" y="1595.9" font-size="23.6" font-weight="bold" textLength="308.50" lengthAdjust="spacing" fill="url(#gr10)" stroke="url(#gr10)" stroke-width="0.7" stroke-linejoin="round" xml:space="preserve">PENYALURAN PROGRAM</text>
<linearGradient id="gr11" gradientUnits="userSpaceOnUse" x1="253.9" x2="719.2" y1="0" y2="0"><stop offset="0" stop-color="#0097b2"/><stop offset="1" stop-color="#7ed957"/></linearGradient><text x="253.52" y="1923.8" font-size="19" font-weight="bold" textLength="466.44" lengthAdjust="spacing" fill="url(#gr11)" stroke="url(#gr11)" stroke-width="0.4" stroke-linejoin="round" xml:space="preserve">TOTAL PENYALURAN  PROGRAM : 1.404.100.000</text>
<text x="733.48" y="1919.7" font-size="11.6" font-weight="bold" textLength="597.99" lengthAdjust="spacing" fill="#111" stroke="#111" stroke-width="0.25" xml:space="preserve">SUMBER DATA : BAGIAN PENYALURAN BAZNAS KAB.SUMBAWA JANUARI S/D MARET TAHUN 2026</text>
</svg>
<table class="os" id="t3" style="left:254.7px;top:1769.8px;width:1070.9px"><colgroup><col style="width:208.1px"><col style="width:207.3px"><col style="width:240.4px"><col style="width:207.6px"><col style="width:207.5px"></colgroup>
<tr style="height:74.1px;background:#cccccc"><th>Bidang<br>Kemanusiaan</th><th>Bidang Kesehatan</th><th>Bidang Pendidikan</th><th>Bidang Ekonomi</th><th>Bidang Dakwah-<br>Advokasi</th></tr>
<tr style="height:46.2px"><td>216.085.000,00</td><td>69.400.000,00</td><td>160.950.000,00</td><td>608.745.000,00</td><td>348.920.000,00</td></tr>
</table>
<svg width="1414" height="2000" viewBox="0 0 1414 2000"><g stroke="#cfcfcf" stroke-width="1.4"><line x1="254.7" x2="254.7" y1="1843.9" y2="1890.8"/><line x1="462.8" x2="462.8" y1="1843.9" y2="1890.8"/><line x1="670.1" x2="670.1" y1="1843.9" y2="1890.8"/><line x1="910.5" x2="910.5" y1="1843.9" y2="1890.8"/><line x1="1118.1" x2="1118.1" y1="1843.9" y2="1890.8"/><line x1="1325.6" x2="1325.6" y1="1843.9" y2="1890.8"/><line x1="254.0" x2="1326.3" y1="1890.1" y2="1890.1"/></g></svg>
<style>
#t3 th,#t3 td{border:0;padding:1.2px 0 0 0;text-align:center;vertical-align:middle;white-space:nowrap}
#t3 th{padding-top:3px;font-weight:bold;font-size:19.3px;line-height:27px;letter-spacing:-.1px;color:#0c0c0c}
#t3 td{font-weight:normal;color:#1c1c1c;font-size:19.2px;padding-top:4px}
</style>
</body></html>
